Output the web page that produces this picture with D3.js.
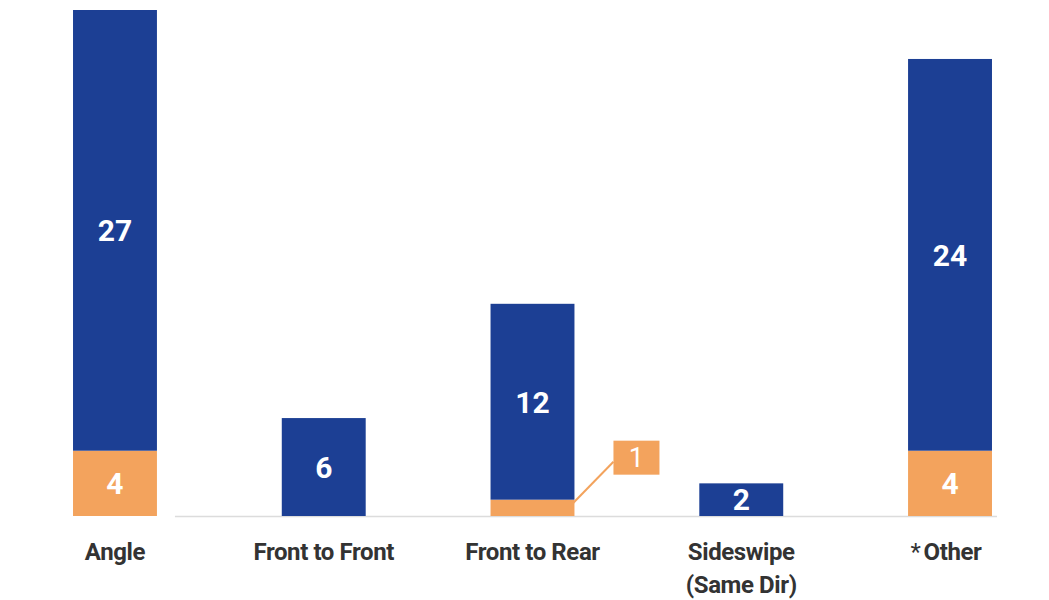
<!DOCTYPE html>
<html><head><meta charset="utf-8">
<script src="https://cdn.jsdelivr.net/npm/d3@7"></script>
<style>body{margin:0;background:#fff}svg{display:block}</style>
</head><body><svg id="c" width="1049" height="600"></svg>
<script>
const categories = ["Angle", "Front to Front", "Front to Rear", "Sideswipe|(Same Dir)", "*Other"];
const orangeValues = [4, 0, 1, 0, 4];
const blueValues = [27, 6, 12, 2, 24];
const yMax = 31;

const svg = d3.select("#c");
const x = d3.scaleBand().domain(categories).range([10.6, 1054.4]).paddingInner(0.598).paddingOuter(0.299);
const y = d3.scaleLinear().domain([0, yMax]).range([516, 10]);
const blue = "#1c3f94", orange = "#f3a35d";

// baseline
svg.append("line").attr("x1", x(categories[0]) + x.bandwidth() + 18).attr("x2", x(categories[4]) + x.bandwidth() + 5)
  .attr("y1", y(0) + 0.5).attr("y2", y(0) + 0.5).attr("stroke", "#dcdcdc").attr("stroke-width", 1.5);

const data = categories.map((c, i) => ({c, o: orangeValues[i], b: blueValues[i]}));

svg.selectAll(".o").data(data.filter(d => d.o > 0)).join("rect")
  .attr("x", d => x(d.c)).attr("width", x.bandwidth())
  .attr("y", d => y(d.o)).attr("height", d => y(0) - y(d.o)).attr("fill", orange);
svg.selectAll(".b").data(data).join("rect")
  .attr("x", d => x(d.c)).attr("width", x.bandwidth())
  .attr("y", d => y(d.o + d.b)).attr("height", d => y(d.o) - y(d.o + d.b)).attr("fill", blue);

const font = "Roboto, 'Liberation Sans', Arial, sans-serif";
// blue labels
svg.selectAll(".bl").data(data).join("text")
  .attr("x", d => x(d.c) + x.bandwidth() / 2)
  .attr("y", d => (y(d.o) + y(d.o + d.b)) / 2)
  .attr("dy", "0.36em").attr("text-anchor", "middle")
  .attr("font-family", font).attr("font-weight", 700).attr("font-size", 30).attr("fill", "#fff")
  .text(d => d.b);
// orange labels (inside if large enough)
data.forEach(d => {
  if (d.o === 0) return;
  const cx = x(d.c) + x.bandwidth() / 2;
  if (y(0) - y(d.o) > 30) {
    svg.append("text").attr("x", cx).attr("y", (y(0) + y(d.o)) / 2).attr("dy", "0.36em")
      .attr("text-anchor", "middle").attr("font-family", font).attr("font-weight", 700)
      .attr("font-size", 30).attr("fill", "#fff").text(d.o);
  } else {
    const bx = x(d.c) + x.bandwidth() + 39, by = y(d.o) - 59, bw = 46, bh = 34;
    svg.append("line").attr("x1", x(d.c) + x.bandwidth() - 2).attr("y1", y(d.o) + 4)
      .attr("x2", bx).attr("y2", by + 21).attr("stroke", orange).attr("stroke-width", 2);
    svg.append("rect").attr("x", bx).attr("y", by).attr("width", bw).attr("height", bh).attr("fill", orange);
    svg.append("text").attr("x", bx + bw / 2).attr("y", by + bh / 2).attr("dy", "0.36em")
      .attr("text-anchor", "middle").attr("font-family", font).attr("font-weight", 400)
      .attr("font-size", 27).attr("fill", "#fff").text(d.o);
  }
});

// category labels
data.forEach(d => {
  const lines = d.c.split("|");
  const t = svg.append("text").attr("x", x(d.c) + x.bandwidth() / 2).attr("y", 560)
    .attr("text-anchor", "middle").attr("font-family", font).attr("font-weight", 700)
    .attr("font-size", 24).attr("fill", "#333").attr("letter-spacing", "-0.4");
  lines.forEach((l, i) => {
    const ts = t.append("tspan").attr("x", x(d.c) + x.bandwidth() / 2).attr("dy", i === 0 ? 0 : 33);
    if (l.startsWith("*")) {
      ts.append("tspan").attr("font-weight", 400).attr("dx", -4).text("*");
      ts.append("tspan").attr("dx", 3).text(l.slice(1));
    } else ts.text(l);
  });
});
</script></body></html>
